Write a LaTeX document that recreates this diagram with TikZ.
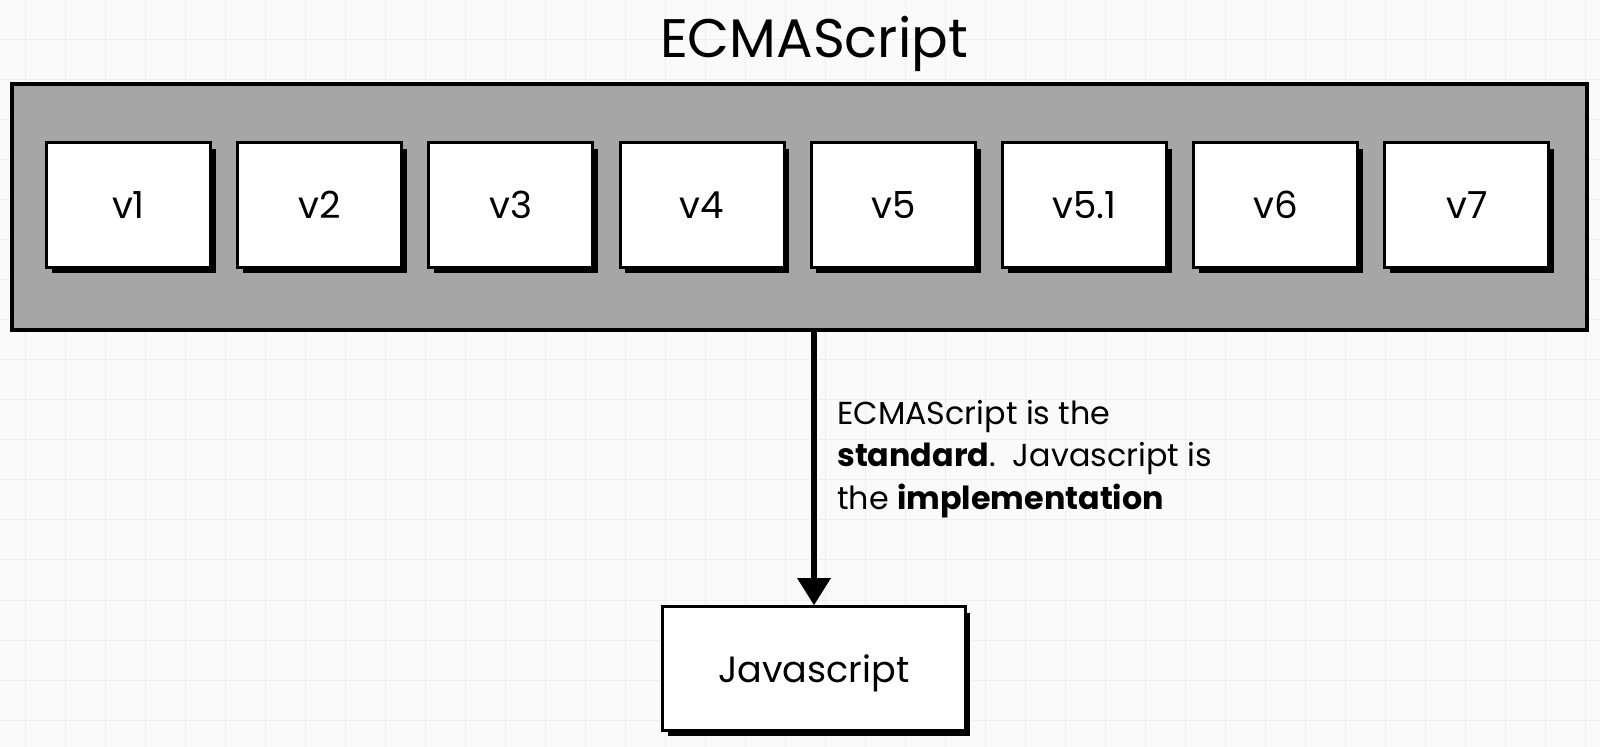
\documentclass[tikz,border=0pt]{standalone}
\usepackage{fontspec}
\setmainfont{Poppins}
\usetikzlibrary{arrows.meta,shadows}
\definecolor{paper}{RGB}{250,250,250}
\definecolor{gridline}{RGB}{239,239,239}
\definecolor{panel}{RGB}{166,166,166}
\begin{document}
\begin{tikzpicture}[
      x=0.025cm, y=-0.025cm,
      declare function={
          p = 191.2;
        },
      verbox/.style={draw, line width=0.075cm, fill=white, inner sep=0pt,
          minimum width=4.1cm, minimum height=3.1cm,
          font=\fontsize{26.5}{30}\selectfont,
          drop shadow={fill=black, opacity=1, shadow xshift=0.13cm, shadow yshift=-0.15cm}},
      conn/.style={line width=0.15cm, -{Triangle[width=0.8cm,length=0.68cm]}}
    ]
    \useasboundingbox (0,0) rectangle (1600,747);
    \fill[paper] (0,0) rectangle (1600,747);
    \foreach \gx in {25,65,...,1600}
      \draw[gridline, line width=0.025cm] (\gx,0) -- (\gx,747);
    \foreach \gy in {0,40,...,747}
      \draw[gridline, line width=0.025cm] (0,\gy) -- (1600,\gy);
    \node (title) at (814,44) {\fontsize{38.6}{44}\selectfont ECMAScript};
    \node[draw, line width=0.09cm, fill=panel, inner sep=0pt,
      minimum width=39.375cm, minimum height=6.15cm] (ecma) at (799.5,207) {};
    \foreach \lbl [count=\i from 0] in {v1,v2,v3,v4,v5,v5.1,v6,v7}
      \node[verbox] (v\i) at (128.5+p*\i,205) {\lbl};
    \node[verbox, minimum width=7.55cm, minimum height=3.08cm, text depth=0pt,
      font=\fontsize{26}{32}\selectfont] (js) at (814,668.5) {Javascript};
    \draw[conn] (js.north |- ecma.south) -- (js.north);
    \node[anchor=north west, inner sep=0pt, align=left,
      font=\fontsize{22.6}{30.2}\selectfont] (note) at (837,400)
      {ECMAScript is the\\\textbf{standard}.\ \ Javascript is\\the \textbf{implementation}};
  \end{tikzpicture}
\end{document}
